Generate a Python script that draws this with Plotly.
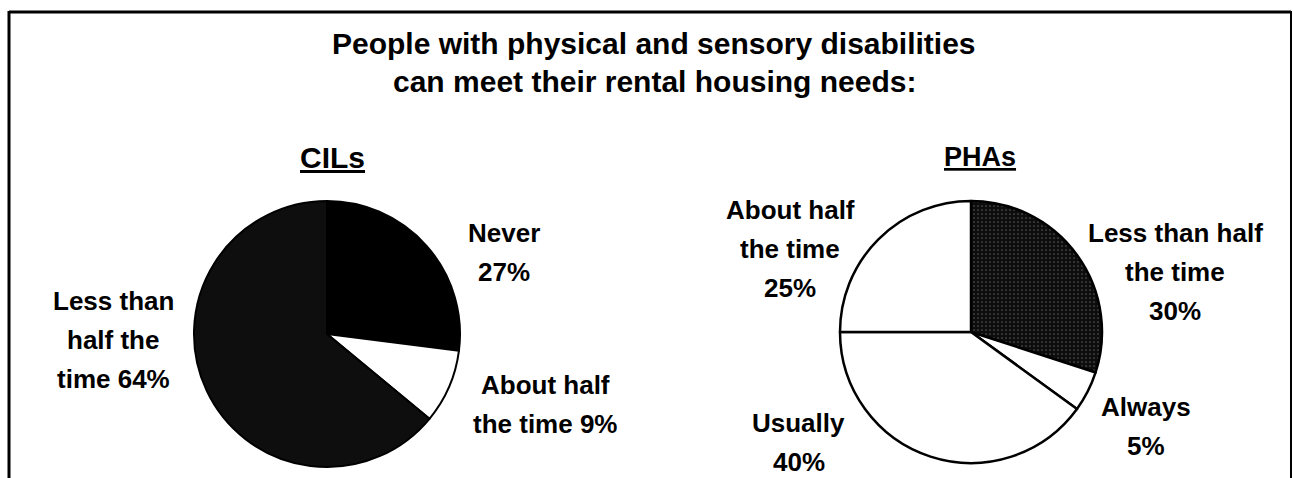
import plotly.graph_objects as go

W, H = 1293, 478

# ---------------- data ----------------
title_lines = ["People with physical and sensory disabilities",
               "can meet their rental housing needs:"]

cil_name = "CILs"
cil_labels = ["Never", "About half the time", "Less than half the time"]
cil_values = [27, 9, 64]
cil_wrapped = [["Never", "{v}%"],
               ["About half", "the time {v}%"],
               ["Less than", "half the", "time {v}%"]]

pha_name = "PHAs"
pha_labels = ["Less than half the time", "Always", "Usually", "About half the time"]
pha_values = [30, 5, 40, 25]
pha_wrapped = [["Less than half", "the time", "{v}%"],
               ["Always", "{v}%"],
               ["Usually", "{v}%"],
               ["About half", "the time", "{v}%"]]

# ---------------- styles / layout ----------------
FONT = "Liberation Sans, Arial, Helvetica, sans-serif"
LABEL_SIZE = 26
LINE_GAP = 39

def px_x(x):
    return x / W

def px_y(y):
    return 1 - y / H

def domain(cx, cy, r):
    return dict(x=[px_x(cx - r), px_x(cx + r)], y=[px_y(cy + r), px_y(cy - r)])

fig = go.Figure()

fig.add_trace(go.Pie(
    labels=cil_labels, values=cil_values, sort=False, direction="clockwise",
    rotation=0, textinfo="none", hoverinfo="label+percent",
    domain=domain(327, 334, 133),
    marker=dict(colors=["#000000", "#ffffff", "#0e0e0e"],
                line=dict(color="#000000", width=2)),
    showlegend=False,
))

fig.add_trace(go.Pie(
    labels=pha_labels, values=pha_values, sort=False, direction="clockwise",
    rotation=0, textinfo="none", hoverinfo="label+percent",
    domain=domain(971, 332, 131),
    marker=dict(colors=["#151515", "#ffffff", "#ffffff", "#ffffff"],
                line=dict(color="#000000", width=2.5),
                pattern=dict(shape=[".", "", "", ""], fgcolor="#555555",
                             bgcolor="#0d0d0d", size=4, solidity=0.15)),
    showlegend=False,
))

annotations = []

def add_text(text, x, y, size, bold=True, underline=False):
    font = dict(family=FONT, size=size, color="#000000", weight="bold" if bold else "normal")
    if underline:
        font["lineposition"] = "under"
    annotations.append(dict(
        text=text, x=px_x(x), y=px_y(y), xref="paper", yref="paper",
        xanchor="center", yanchor="middle", showarrow=False, font=font,
    ))

# title
title_y = [43, 82]
for line, y in zip(title_lines, title_y):
    add_text(line, 654, y, 30)

# sub headings
add_text(cil_name, 333, 157, 30, underline=True)
add_text(pha_name, 980, 157, 27, underline=True)

# slice labels (first-line centre positions)
cil_pos = [(504, 233), (545, 385), (113, 301)]
pha_pos = [(1175, 233), (1146, 407), (799, 423), (790, 210)]

for wrapped, val, (x, y0) in zip(cil_wrapped, cil_values, cil_pos):
    for i, ln in enumerate(wrapped):
        add_text(ln.format(v=val), x, y0 + i * LINE_GAP, LABEL_SIZE)

for wrapped, val, (x, y0) in zip(pha_wrapped, pha_values, pha_pos):
    for i, ln in enumerate(wrapped):
        add_text(ln.format(v=val), x, y0 + i * LINE_GAP, LABEL_SIZE)

# frame lines
shapes = [
    dict(type="line", xref="paper", yref="paper", x0=px_x(9), x1=px_x(1291),
         y0=px_y(12), y1=px_y(12), line=dict(color="#000000", width=3)),
    dict(type="line", xref="paper", yref="paper", x0=px_x(9), x1=px_x(9),
         y0=px_y(11), y1=0, line=dict(color="#000000", width=3)),
    dict(type="line", xref="paper", yref="paper", x0=px_x(1291), x1=px_x(1291),
         y0=px_y(11), y1=0, line=dict(color="#000000", width=2)),
]

fig.update_layout(
    width=W, height=H,
    margin=dict(l=0, r=0, t=0, b=0),
    paper_bgcolor="#ffffff", plot_bgcolor="#ffffff",
    annotations=annotations, shapes=shapes,
    showlegend=False,
)

fig.write_html("out.html")
